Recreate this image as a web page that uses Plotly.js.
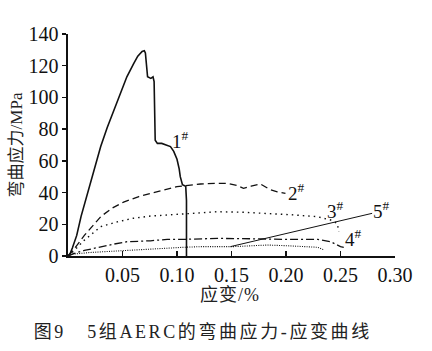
<!DOCTYPE html>
<html><head><meta charset="utf-8">
<script src="https://cdn.plot.ly/plotly-3.0.1.min.js"></script>
<style>body{margin:0;background:#fff}#c{width:432px;height:351px}
g.annotation[data-index="6"] text{letter-spacing:2.6px}
g.annotation[data-index="5"] text{letter-spacing:1px}
</style>
</head><body><div id="c"></div>
<script>
const c1x=[0,0.002,0.004,0.008,0.012,0.018,0.024,0.03,0.036,0.042,0.048,0.054,0.06,0.064,0.068,0.070,0.071,0.072,0.073,0.076,0.078,0.079,0.0795,0.080,0.082,0.086,0.090,0.094,0.097,0.100,0.102,0.103,0.105,0.108,0.1087,0.1087];
const c1y=[0,1.5,5,13,25,40,55,69,81,92,102,113,121,126,129,129.5,128,122,113,112,113,110,90,73,71,71,70,69,66,61,55,50,45,44,35,0];
const c2x=[0,0.005,0.015,0.03,0.04,0.051,0.065,0.0757,0.09,0.1,0.106,0.115,0.1216,0.135,0.146,0.155,0.161,0.168,0.1766,0.185,0.192,0.1995];
const c2y=[0,3.8,13,24.8,30,34,37.5,39.5,42,43.7,44.2,45,45.4,45.8,45.8,44.5,42.7,44,45.4,42,40.5,39.5];
const c3x=[0,0.005,0.015,0.03,0.045,0.06,0.0757,0.091,0.11,0.137,0.16,0.183,0.205,0.2286,0.241,0.247,0.2485];
const c3y=[0,3,10,18.5,21.5,23.8,25.2,25.9,26.8,27.9,27.6,26.9,26,24.8,22.7,20.6,15.3];
const c4x=[0,0.005,0.015,0.03,0.042,0.054,0.0757,0.091,0.106,0.137,0.152,0.175,0.198,0.229,0.241,0.25,0.253];
const c4y=[0,1.5,3.5,5.9,7.5,9,9.6,10.5,10.5,11.1,11.1,10.8,10.5,10.5,9,5.9,5.5];
const c5x=[0,0.005,0.02,0.04,0.06,0.0757,0.106,0.1216,0.152,0.17,0.183,0.2,0.213,0.229,0.235];
const c5y=[0,1.2,2.2,3,3.8,4.6,5.5,5.9,5.9,6.5,6.9,6.5,5.9,5.5,3.8];
const labels=["1<sup>#</sup>","2<sup>#</sup>","3<sup>#</sup>","4<sup>#</sup>","5<sup>#</sup>"];
const labelX=[0.1035,0.210,0.2454,0.262,0.2876];
const labelY=[73,40.5,29,11.2,29];
const leader5x=[0.149,0.279];
const leader5y=[5.9,26.9];
const xTicks=[0.05,0.10,0.15,0.20,0.25,0.30];
const xTickText=["0.05","0.10","0.15","0.20","0.25","0.30"];
const yTicks=[0,20,40,60,80,100,120,140];

const F="'Liberation Serif', 'Times New Roman', 'Noto Sans CJK SC', serif";
const mk=(x,y,dash,w)=>({x,y,mode:'lines',line:{color:'#111',width:w,dash},hoverinfo:'skip',showlegend:false});
const data=[
 mk(c1x,c1y,'solid',1.6),
 mk(c2x,c2y,'7px,4px',1.3),
 mk(c3x,c3y,'1.5px,4px',1.4),
 mk(c4x,c4y,'8px,3px,2px,3px',1.3),
 mk(c5x,c5y,'1px,1.3px',1.1),
 mk(leader5x,leader5y,'solid',1)
];
const ann=labels.map((t,i)=>({x:labelX[i],y:labelY[i],xref:'x',yref:'y',text:t,showarrow:false,font:{family:F,size:19,color:'#111'}}));
ann.push({xref:'paper',yref:'paper',x:0.495,y:-0.12,yanchor:'top',text:'应变/%',showarrow:false,font:{family:F,size:18,color:'#222'}});
ann.push({xref:'paper',yref:'paper',x:0.414,y:-0.29,yanchor:'top',text:'图9\u00a0\u00a0\u00a05组AERC的弯曲应力-应变曲线',showarrow:false,font:{family:F,size:18,color:'#222'}});
const layout={
 width:432,height:351,margin:{l:67.5,r:37,t:34,b:95},
 paper_bgcolor:'#fff',plot_bgcolor:'#fff',
 xaxis:{range:[0,0.3],tickvals:xTicks,ticktext:xTickText,ticks:'inside',ticklen:5,tickwidth:1.3,tickcolor:'#111',
  showline:true,linecolor:'#111',linewidth:1.6,showgrid:false,zeroline:false,
  tickfont:{family:F,size:20,color:'#111'},fixedrange:true},
 yaxis:{range:[0,140],tickvals:yTicks,ticks:'outside',ticklen:4,tickwidth:1.3,tickcolor:'#111',
  showline:true,linecolor:'#111',linewidth:1.6,showgrid:false,zeroline:false,
  tickfont:{family:F,size:20,color:'#111'},
  title:{text:'弯曲应力/MPa',font:{family:F,size:17,color:'#222'},standoff:1},fixedrange:true},
 annotations:ann
};
Plotly.newPlot('c',data,layout,{displayModeBar:false,staticPlot:true});
</script></body></html>
